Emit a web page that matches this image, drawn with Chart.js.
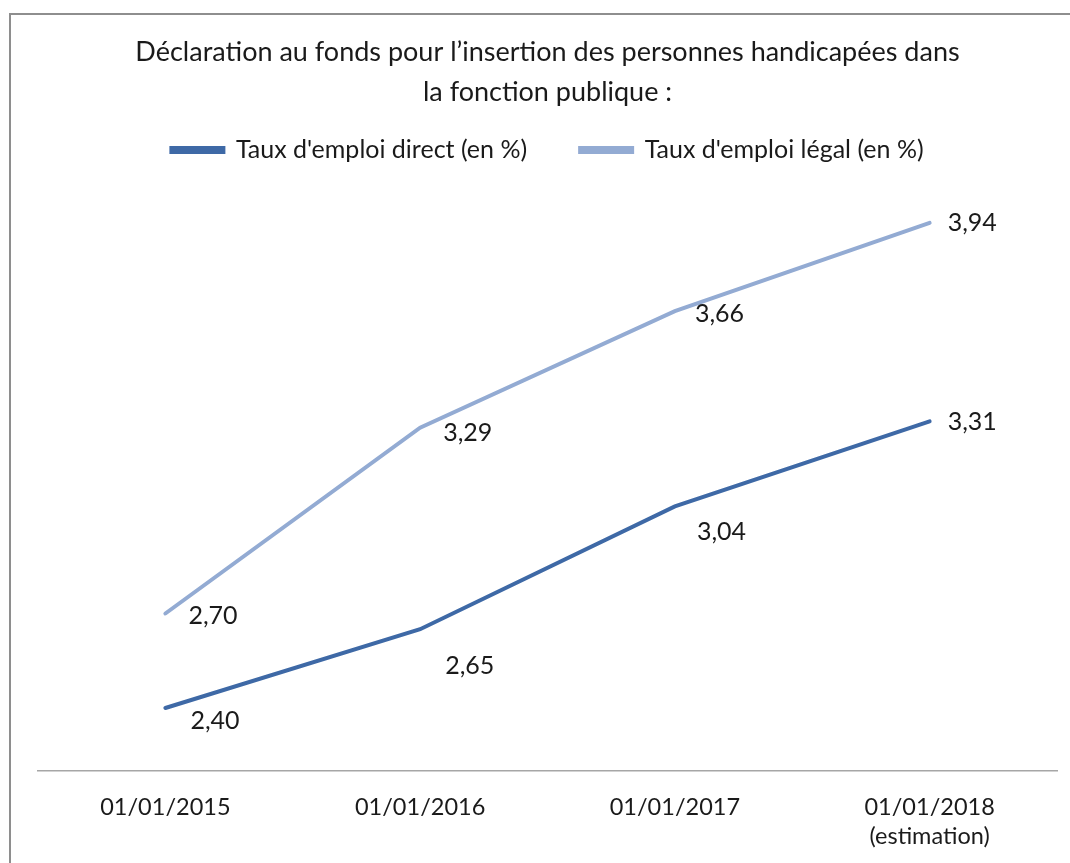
<!DOCTYPE html>
<html lang="fr">
<head>
<meta charset="utf-8">
<title>Déclaration au FIPHFP</title>
<script src="https://cdn.jsdelivr.net/npm/chart.js@4/dist/chart.umd.min.js"></script>
<style>
  html, body { margin: 0; padding: 0; background: #fff; }
  #wrap { position: relative; width: 1070px; height: 863px; overflow: hidden; }
  #frame {
    position: absolute; left: 9px; top: 13px; right: -10px; bottom: -10px;
    border-left: 2px solid #8e8e8e; border-top: 2px solid #8e8e8e;
  }
  #chart { position: absolute; left: 0; top: 0; }
</style>
</head>
<body>
<div id="wrap">
  <div id="frame"></div>
  <canvas id="chart" width="1070" height="863"></canvas>
</div>
<script>
// Données
const categories = [
  '01/01/2015',
  '01/01/2016',
  '01/01/2017',
  ['01/01/2018', '(estimation)']
];
const tauxDirect = [2.40, 2.65, 3.04, 3.31];
const tauxLegal = [2.70, 3.29, 3.66, 3.94];
const seriesNames = ["Taux d'emploi direct (en %)", "Taux d'emploi légal (en %)"];

const FONT = 'Lato, "Open Sans", sans-serif';
const TEXT = '#1a1a1a';

// Étiquettes de valeurs, décalées comme dans l'original (dx, dy par point)
const valueLabels = {
  id: 'valueLabels',
  afterDatasetsDraw(chart, args, opts) {
    const ctx = chart.ctx;
    ctx.save();
    ctx.font = '25px ' + FONT;
    ctx.fillStyle = TEXT;
    ctx.textAlign = 'left';
    ctx.textBaseline = 'middle';
    chart.data.datasets.forEach((ds, i) => {
      const meta = chart.getDatasetMeta(i);
      const offs = opts.offsets[i];
      meta.data.forEach((pt, j) => {
        const txt = ds.data[j].toFixed(2).replace('.', ',');
        ctx.fillText(txt, pt.x + offs[j][0], pt.y + offs[j][1]);
      });
    });
    ctx.restore();
  }
};

new Chart(document.getElementById('chart'), {
  type: 'line',
  data: {
    labels: categories,
    datasets: [
      {
        label: seriesNames[0],
        data: tauxDirect,
        borderColor: '#3e69a6',
        backgroundColor: '#3e69a6',
        borderWidth: 4,
        borderCapStyle: 'round',
        pointRadius: 0,
        tension: 0
      },
      {
        label: seriesNames[1],
        data: tauxLegal,
        borderColor: '#93abd3',
        backgroundColor: '#93abd3',
        borderWidth: 4,
        borderCapStyle: 'round',
        pointRadius: 0,
        tension: 0
      }
    ]
  },
  options: {
    responsive: false,
    animation: false,
    layout: { padding: { left: 38, right: 13, top: 0, bottom: -10 } },
    plugins: {
      title: {
        display: true,
        text: [
          'Déclaration au fonds pour l\u2019insertion des personnes handicapées dans',
          'la fonction publique :'
        ],
        color: TEXT,
        font: { family: FONT, size: 27, weight: 'normal', lineHeight: 1.481 },
        padding: { top: 32, bottom: -27.5 }
      },
      legend: {
        display: true,
        position: 'top',
        labels: {
          color: TEXT,
          font: { family: FONT, size: 25 },
          boxWidth: 52,
          boxHeight: 4,
          padding: 53
        }
      },
      tooltip: { enabled: false },
      valueLabels: {
        offsets: [
          [[25, 13], [25, 37], [22, 26], [18, 1]],
          [[23, 2], [23, 5], [20, 3], [18, 0]]
        ]
      }
    },
    scales: {
      x: {
        offset: true,
        grid: { display: false, drawTicks: false, tickLength: 0 },
        border: { display: true, color: '#a6a6a6', width: 1.5 },
        ticks: {
          color: TEXT,
          font: { family: FONT, size: 23.5, lineHeight: 1.234 },
          padding: 22,
          maxRotation: 0,
          autoSkip: false
        }
      },
      y: {
        display: false,
        min: 2.2,
        max: 4.1
      }
    }
  },
  plugins: [valueLabels]
});
</script>
</body>
</html>
